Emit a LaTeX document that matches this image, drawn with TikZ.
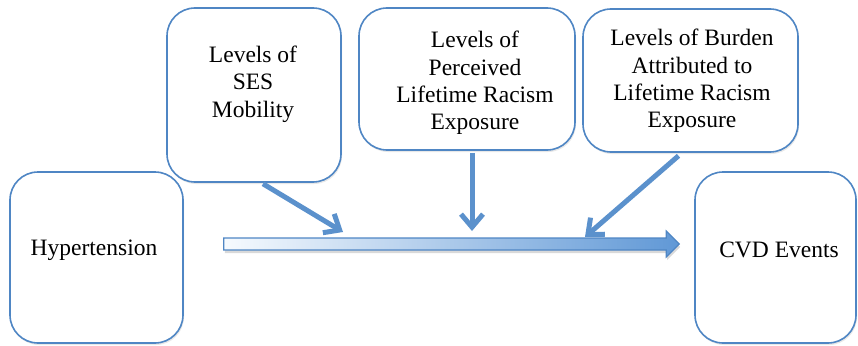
\documentclass[tikz,border=0pt]{standalone}
\usepackage{fontspec}
\setmainfont{Liberation Serif}
\usetikzlibrary{arrows.meta,shadows,calc}
\definecolor{boxblue}{RGB}{79,134,196}
\definecolor{arrowblue}{RGB}{91,145,204}
\definecolor{flowdark}{RGB}{96,152,214}
\definecolor{flowlight}{RGB}{246,250,254}
\tikzset{
  box/.style={draw=boxblue, line width=1.6pt, rounded corners=28pt, fill=white,
    drop shadow={opacity=0.18, shadow xshift=1pt, shadow yshift=-2pt}},
  label text/.style={align=center, inner sep=0pt,
    font=\fontsize{23.5}{27.3}\selectfont},
  pointer/.style={draw=arrowblue, line width=5pt,
    -{Straight Barb[length=13pt,width=22pt]}},
}
\begin{document}
\begin{tikzpicture}[x=1pt,y=-1pt]
\useasboundingbox (0,0) rectangle (858,345);

% outcome boxes
\node[box, minimum width=173pt, minimum height=171pt] (hyp) at (96.5,257.5) {};
\node[box, minimum width=161pt, minimum height=171pt] (cvd) at (775.5,257.5) {};
\node[label text] (hypT) at (94,250) {Hypertension};
\node[label text] (cvdT) at (779,250) {CVD Events};

% moderator boxes
\node[box, minimum width=174pt, minimum height=174pt] (ses) at (254,95) {};
\node[box, minimum width=216pt, minimum height=142pt] (per) at (467,79) {};
\node[box, minimum width=215pt, minimum height=143pt] (bur) at (690.5,80.5) {};
\node[label text] (sesT) at (253,84) {Levels of\\SES\\Mobility};
\node[label text] (perT) at (475,83) {Levels of\\Perceived\\Lifetime Racism\\Exposure};
\node[label text] (burT) at (692,81) {Levels of Burden\\Attributed to\\Lifetime Racism\\Exposure};

% main path arrow between the outcomes
\coordinate (ms) at ($(hyp.east)+(40,-13.5)$);
\coordinate (me) at ($(cvd.west)+(-15,-13.5)$);
\path[draw=boxblue, line width=1.2pt, left color=flowlight, right color=flowdark,
      drop shadow={opacity=0.3, shadow xshift=1pt, shadow yshift=-3pt}]
  ($(ms)+(0,-6)$) -- ($(me)+(-13,-6)$) -- ($(me)+(-13,-13)$) -- (me)
  -- ($(me)+(-13,13)$) -- ($(me)+(-13,6)$) -- ($(ms)+(0,6)$) -- cycle;

% moderating arrows onto the main path
\coordinate (t1) at (343,232);
\coordinate (t2) at (472,231);
\coordinate (t3) at (585,237);
\draw[pointer] ($(ses.south)+(9,1)$) -- (t1);
\draw[pointer] ($(per.south)+(5,2)$) -- (t2);
\draw[pointer] ($(bur.south)+(-12,3)$) -- (t3);
\end{tikzpicture}
\end{document}
